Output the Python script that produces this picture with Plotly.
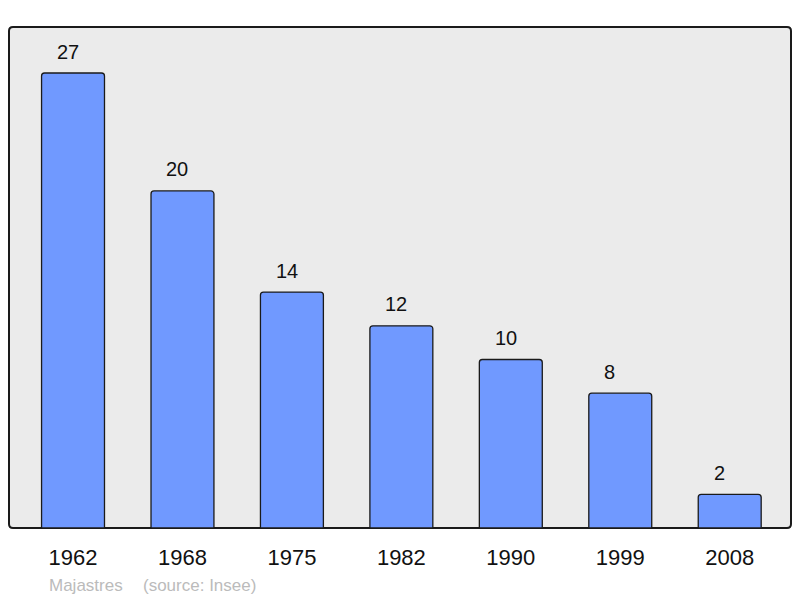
import plotly.graph_objects as go

years = ["1962", "1968", "1975", "1982", "1990", "1999", "2008"]
population = [27, 20, 14, 12, 10, 8, 2]
commune = "Majastres"
source = "(source: Insee)"

W, H = 800, 598
L, R, T, B = 9, 9, 27, 70
pw, ph = W - L - R, H - T - B
FONT = "Liberation Sans"

fig = go.Figure()
fig.add_trace(go.Bar(
    x=list(range(len(years))), y=population, width=0.575,
    marker=dict(color="#7099ff", line=dict(color="#1a1a1a", width=1.3), cornerradius=3),
    hoverinfo="skip",
))

for i, v in enumerate(population):
    fig.add_annotation(x=i, y=v, text=str(v), showarrow=False, xanchor="left",
                       yanchor="middle", xshift=-18, yshift=21.5,
                       font=dict(size=20, color="#111", family=FONT))

# rounded plot frame
r = 4
rx, ry = r / pw, r / ph
path = (f"M {rx},0 L {1-rx},0 Q 1,0 1,{ry} L 1,{1-ry} Q 1,1 {1-rx},1 "
        f"L {rx},1 Q 0,1 0,{1-ry} L 0,{ry} Q 0,0 {rx},0 Z")
fig.add_shape(type="path", path=path, xref="paper", yref="paper",
              fillcolor="#ebebeb", line=dict(color="#1a1a1a", width=2), layer="below")

def px_x(x):
    return (x - L) / pw

def px_y(y):
    return 1 - (y - T) / ph

fig.add_annotation(x=px_x(47), y=px_y(585), xref="paper", yref="paper", text=commune,
                   showarrow=False, xanchor="left", yanchor="middle",
                   font=dict(size=17, color="#bbbbbb", family=FONT))
fig.add_annotation(x=px_x(141), y=px_y(585), xref="paper", yref="paper", text=source,
                   showarrow=False, xanchor="left", yanchor="middle",
                   font=dict(size=17, color="#bbbbbb", family=FONT))

fig.update_layout(
    width=W, height=H, margin=dict(l=L, r=R, t=T, b=B, pad=0),
    paper_bgcolor="white", plot_bgcolor="rgba(0,0,0,0)", showlegend=False,
    xaxis=dict(range=[-0.585, 6.56], tickmode="array", tickvals=list(range(len(years))),
               ticktext=years, ticks="outside", ticklen=10, tickcolor="rgba(0,0,0,0)",
               showgrid=False, zeroline=False, showline=False,
               tickfont=dict(size=22, color="#111", family=FONT)),
    yaxis=dict(range=[0, 29.73], visible=False, showgrid=False),
)
fig.write_html("out.html", config={"displayModeBar": False},
               post_script="document.body.style.margin='0';")
